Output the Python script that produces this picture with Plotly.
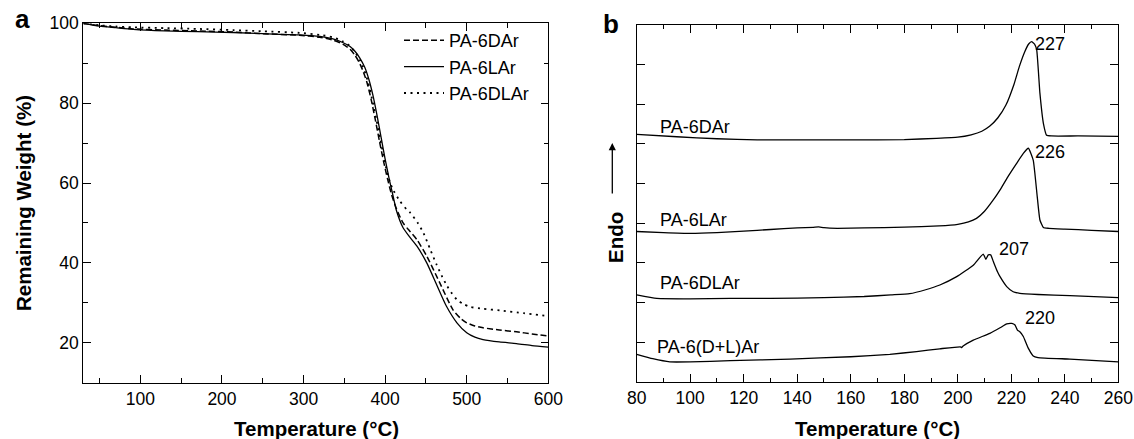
import plotly.graph_objects as go

# ---------------- Panel a: TGA ----------------
t_6dar = [30, 50, 70, 91, 130, 170, 214, 250, 295, 320, 336, 348, 357, 363, 368, 373, 378, 383, 388, 393, 398, 403, 408, 414, 422, 430, 439, 451, 467, 483, 492, 500, 510, 520, 540, 561, 580, 600]
w_6dar = [100, 99.4, 99.0, 98.6, 98.3, 98.1, 97.8, 97.4, 97.0, 96.5, 95.8, 94.8, 93.5, 92.0, 90.3, 88.0, 85.0, 80.8, 75.8, 70.5, 65.5, 61.0, 57.0, 53.5, 50.0, 48.0, 45.8, 41.7, 35.0, 28.3, 26.2, 25.0, 24.2, 23.75, 23.2, 22.75, 22.2, 21.7]

t_6lar = [30, 50, 70, 91, 130, 170, 214, 250, 295, 320, 336, 348, 357, 363, 369, 375, 380, 385, 390, 395, 400, 405, 410, 414, 422, 430, 439, 451, 463, 475, 488, 500, 510, 520, 540, 561, 580, 600]
w_6lar = [100, 99.3, 98.9, 98.5, 98.1, 97.9, 97.7, 97.4, 97.1, 96.7, 96.1, 95.2, 94.2, 93.0, 91.3, 89.0, 86.0, 82.0, 77.0, 71.5, 66.0, 61.0, 56.5, 53.0, 48.8, 46.5, 44.2, 40.0, 34.6, 29.2, 25.0, 22.5, 21.4, 20.8, 20.2, 19.8, 19.3, 18.9]

t_6dlar = [30, 50, 70, 91, 130, 170, 214, 250, 295, 320, 336, 348, 357, 363, 369, 374, 379, 384, 389, 394, 399, 404, 409, 418, 426, 431, 440, 447, 455, 463, 470, 476, 482, 488, 496, 504, 520, 541, 570, 600]
w_6dlar = [100, 99.5, 99.2, 99.0, 98.8, 98.6, 98.3, 98.0, 97.6, 97.1, 96.5, 95.5, 94.3, 92.8, 90.8, 88.5, 85.3, 81.0, 76.2, 71.0, 65.8, 61.5, 58.6, 55.5, 53.5, 52.5, 50.0, 47.5, 43.5, 39.6, 36.5, 34.2, 32.3, 30.8, 29.7, 29.0, 28.5, 28.1, 27.4, 26.7]

# ---------------- Panel b: DSC (offset heat-flow curves) ----------------
t_dsc_dar = [80, 95, 110, 125, 140, 160, 180, 192, 200, 205, 209, 212, 215, 218, 221, 223, 225, 226.5, 227.6, 228.7, 229.5, 230.7, 232, 233.2, 235, 245, 260]
h_dsc_dar = [6.24, 6.18, 6.13, 6.10, 6.10, 6.10, 6.11, 6.14, 6.17, 6.23, 6.32, 6.45, 6.66, 6.98, 7.50, 7.95, 8.32, 8.52, 8.58, 8.52, 8.37, 7.28, 6.52, 6.22, 6.20, 6.20, 6.19]

t_dsc_lar = [80, 90, 100, 110, 120, 130, 140, 146, 148, 150, 155, 165, 180, 193, 200, 204, 207, 210, 213, 216, 219, 222, 224.5, 226.4, 228.2, 229.7, 230.7, 232, 234, 240, 250, 260]
h_dsc_lar = [3.79, 3.76, 3.74, 3.76, 3.80, 3.84, 3.88, 3.895, 3.905, 3.885, 3.87, 3.88, 3.90, 3.93, 3.97, 4.03, 4.12, 4.30, 4.56, 4.86, 5.20, 5.51, 5.76, 5.89, 5.59, 4.67, 4.08, 3.89, 3.87, 3.85, 3.82, 3.79]

t_dsc_dlar = [80, 87.5, 100, 115, 130, 150, 165, 175, 182, 188, 193.3, 199.6, 205.8, 209.5, 210.5, 211.4, 212.3, 213.3, 214.8, 215.8, 218.3, 220.7, 223.2, 230, 241.9, 260]
h_dsc_dlar = [2.19, 2.10, 2.09, 2.10, 2.10, 2.12, 2.15, 2.19, 2.22, 2.32, 2.44, 2.65, 2.94, 3.22, 3.09, 3.20, 3.20, 3.03, 2.78, 2.65, 2.40, 2.27, 2.23, 2.20, 2.17, 2.12]

t_dsc_dpl = [80, 86, 92.4, 100, 115, 137.3, 160, 174.6, 184.6, 193.3, 201.0, 201.4, 202, 205.8, 212, 215.8, 218.3, 220.2, 221.4, 222.3, 223.2, 224.5, 226.4, 228.2, 230, 241.9, 260]
h_dsc_dpl = [0.69, 0.58, 0.50, 0.50, 0.53, 0.57, 0.63, 0.69, 0.76, 0.83, 0.88, 0.86, 0.90, 1.05, 1.22, 1.36, 1.46, 1.47, 1.43, 1.30, 1.26, 1.14, 0.84, 0.65, 0.61, 0.57, 0.50]

dsc_labels = ["PA-6DAr", "PA-6LAr", "PA-6DLAr", "PA-6(D+L)Ar"]
dsc_label_pos = [(88, 6.43), (88, 4.08), (88, 2.48), (87, 0.88)]
peak_labels = ["227", "226", "207", "220"]
peak_label_pos = [(228.0, 8.52), (228.0, 5.80), (214.7, 3.34), (224.2, 1.60)]

FONT = "Liberation Sans, Arial, sans-serif"
BLACK = "#000000"

fig = go.Figure()

fig.add_trace(go.Scatter(x=t_6dar, y=w_6dar, mode="lines", name="PA-6DAr",
                         line=dict(color=BLACK, width=1.5, dash="6px,3px", shape="spline", smoothing=0.6),
                         xaxis="x", yaxis="y"))
fig.add_trace(go.Scatter(x=t_6lar, y=w_6lar, mode="lines", name="PA-6LAr",
                         line=dict(color=BLACK, width=1.3, shape="spline", smoothing=0.6),
                         xaxis="x", yaxis="y"))
fig.add_trace(go.Scatter(x=t_6dlar, y=w_6dlar, mode="lines", name="PA-6DLAr",
                         line=dict(color=BLACK, width=1.8, dash="2px,4.5px", shape="spline", smoothing=0.6),
                         xaxis="x", yaxis="y"))

for tt, hh in [(t_dsc_dar, h_dsc_dar), (t_dsc_lar, h_dsc_lar), (t_dsc_dlar, h_dsc_dlar), (t_dsc_dpl, h_dsc_dpl)]:
    fig.add_trace(go.Scatter(x=tt, y=hh, mode="lines", showlegend=False,
                             line=dict(color=BLACK, width=1.3, shape="spline", smoothing=0.4),
                             xaxis="x2", yaxis="y2"))

axis_common = dict(showline=True, linecolor=BLACK, linewidth=1.3, mirror="ticks",
                   ticks="inside", tickcolor=BLACK, tickwidth=1.2, showgrid=False, zeroline=False,
                   automargin=False, tickfont=dict(family=FONT, size=17.5, color=BLACK))

fig.update_layout(
    width=1134, height=439,
    margin=dict(l=0, r=0, t=0, b=0),
    paper_bgcolor="white", plot_bgcolor="white",
    font=dict(family=FONT, color=BLACK),
    showlegend=True,
    legend=dict(x=399 / 1134, y=1 - 22 / 439, xanchor="left", yanchor="top",
                bgcolor="rgba(0,0,0,0)", borderwidth=0, itemwidth=40,
                font=dict(family=FONT, size=18, color=BLACK), tracegroupgap=0),
    xaxis=dict(domain=[83.3 / 1134, 548.3 / 1134], range=[30, 600], tickvals=[100, 200, 300, 400, 500, 600],
               ticklen=7.5, minor=dict(tickvals=[50, 150, 250, 350, 450, 550], ticks="inside", ticklen=4.3,
                                       tickcolor=BLACK, tickwidth=1.2),
               anchor="y", **axis_common),
    yaxis=dict(domain=[1 - 382.7 / 439, 1 - 23.3 / 439], range=[10, 100], tickvals=[20, 40, 60, 80, 100],
               ticklen=7.5, minor=dict(tickvals=[30, 50, 70, 90], ticks="inside", ticklen=4.3,
                                       tickcolor=BLACK, tickwidth=1.2),
               anchor="x", **axis_common),
    xaxis2=dict(domain=[636.7 / 1134, 1118.3 / 1134], range=[80, 260],
                tickvals=[80, 100, 120, 140, 160, 180, 200, 220, 240, 260],
                ticklen=8, minor=dict(tickvals=[90, 110, 130, 150, 170, 190, 210, 230, 250], ticks="inside",
                                      ticklen=4, tickcolor=BLACK, tickwidth=1.2),
                anchor="y2", **axis_common),
    yaxis2=dict(domain=[1 - 381.7 / 439, 1 - 25 / 439], range=[0, 9], tickvals=[1, 2, 3, 4, 5, 6, 7, 8],
                showticklabels=False, ticklen=8, anchor="x2", **axis_common),
)

ann = []
# panel letters
ann.append(dict(text="<b>a</b>", x=22 / 1134, y=1 - 19 / 439, xref="paper", yref="paper",
                showarrow=False, font=dict(family=FONT, size=26, color=BLACK), xanchor="center", yanchor="middle"))
ann.append(dict(text="<b>b</b>", x=611 / 1134, y=1 - 24 / 439, xref="paper", yref="paper",
                showarrow=False, font=dict(family=FONT, size=26, color=BLACK), xanchor="center", yanchor="middle"))
# axis titles
ann.append(dict(text="<b>Temperature (°C)</b>", x=316 / 1134, y=1 - 428 / 439, xref="paper", yref="paper",
                showarrow=False, font=dict(family=FONT, size=20.5, color=BLACK), xanchor="center", yanchor="middle"))
ann.append(dict(text="<b>Temperature (°C)</b>", x=877 / 1134, y=1 - 428 / 439, xref="paper", yref="paper",
                showarrow=False, font=dict(family=FONT, size=20.5, color=BLACK), xanchor="center", yanchor="middle"))
ann.append(dict(text="<b>Remaining Weight (%)</b>", x=23 / 1134, y=1 - 203 / 439, xref="paper", yref="paper",
                showarrow=False, textangle=-90, font=dict(family=FONT, size=20.5, color=BLACK),
                xanchor="center", yanchor="middle"))
ann.append(dict(text="<b>Endo</b>", x=615 / 1134, y=1 - 238 / 439, xref="paper", yref="paper",
                showarrow=False, textangle=-90, font=dict(family=FONT, size=20.5, color=BLACK),
                xanchor="center", yanchor="middle"))
# Endo arrow
ann.append(dict(text="", x=612.3 / 1134, y=1 - 143 / 439, xref="paper", yref="paper",
                showarrow=True, ax=0, ay=52, arrowhead=2, arrowsize=1.1, arrowwidth=1.3, arrowcolor=BLACK))
# curve labels panel b
for lab, (lx, ly) in zip(dsc_labels, dsc_label_pos):
    ann.append(dict(text=lab, x=lx, y=ly, xref="x2", yref="y2", showarrow=False, xanchor="left",
                    yanchor="middle", font=dict(family=FONT, size=18, color=BLACK)))
for lab, (lx, ly) in zip(peak_labels, peak_label_pos):
    ann.append(dict(text=lab, x=lx, y=ly, xref="x2", yref="y2", showarrow=False, xanchor="left",
                    yanchor="middle", font=dict(family=FONT, size=18, color=BLACK)))

fig.update_layout(annotations=ann)
fig.write_html("out.html", config={"displayModeBar": False},
               post_script="document.body.style.margin='0';document.body.style.padding='0';")
